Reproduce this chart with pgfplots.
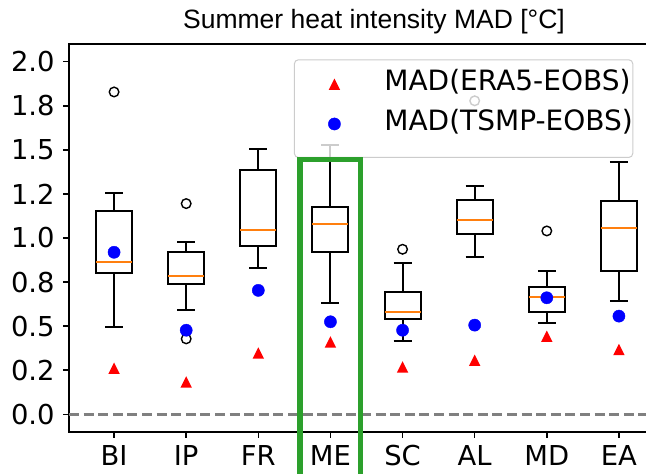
\documentclass[border=0pt]{standalone}
\usepackage{fontspec}
\setmainfont{DejaVu Sans}
\newfontfamily\titlefont{Liberation Sans}
\usepackage{pgfplots}
\pgfplotsset{compat=1.18}
\usepgfplotslibrary{statistics}
\definecolor{mplorange}{HTML}{FF7F0E}
\definecolor{mplgreen}{HTML}{2CA02C}
\definecolor{legedge}{HTML}{CCCCCC}
\pgfdeclareplotmark{mtri}{%
  \pgfpathmoveto{\pgfpoint{0pt}{\pgfplotmarksize}}%
  \pgfpathlineto{\pgfpoint{-\pgfplotmarksize}{-\pgfplotmarksize}}%
  \pgfpathlineto{\pgfpoint{\pgfplotmarksize}{-\pgfplotmarksize}}%
  \pgfpathclose
  \pgfusepathqfill}
\pgfplotsset{
  mybox/.style={black, solid, line width=1pt, mark=o,
    mark options={black, line width=0.7pt, solid, fill=none},
    mark size=2.4pt,
    boxplot/draw direction=y,
    boxplot/every median/.style={draw=mplorange, line width=0.9pt},
    forget plot},
  myleg/.style={legend image code/.code={\path[draw=none, fill=none] (0pt,-4pt) rectangle (45pt,4pt);
    \pgfinterruptboundingbox
    \draw[##1, sharp corners, fill opacity=1, draw opacity=1] plot coordinates {(20pt,2.25pt)};
    \endpgfinterruptboundingbox}},
}
\begin{document}
\begin{tikzpicture}
\begin{axis}[
  at={(0pt,0pt)}, anchor=south west,
  scale only axis, width=297.5pt, height=194pt,
  xmin=0.375, xmax=8.625, ymin=-0.1, ymax=2.1,
  xtick={1,2,3,4,5,6,7,8},
  xticklabels={BI,IP,FR,ME,SC,AL,MD,EA},
  ytick={0,0.25,0.5,0.75,1,1.25,1.5,1.75,2},
  yticklabels={0.0,0.2,0.5,0.8,1.0,1.2,1.5,1.8,2.0},
  xtick pos=bottom, ytick pos=left,
  tick align=outside,
  major tick length=2.8pt,
  major tick style={black, line width=0.8pt},
  axis line style={black, line width=0.9pt},
  /pgf/number format/assume math mode=true,
  tick label style={font=\fontsize{13.7}{16}\selectfont},
  yticklabel style={anchor=east, inner sep=0pt, xshift=-4.2pt},
  xticklabel style={anchor=north, inner sep=0pt, yshift=-3.7pt},
  legend cell align=left,
  legend style={at={(axis description cs:0.378,0.9606)}, anchor=north west,
    draw=legedge, line width=0.5pt, rounded corners=2pt,
    fill=white, fill opacity=0.8, draw opacity=1, text opacity=1,
    inner xsep=0pt, inner ysep=8pt, row sep=6.85pt, column sep=0pt,
    font=\fontsize{14}{16.8}\selectfont,
    nodes={inner sep=0pt, text height=7.35pt, text depth=5.65pt}},
]
% zero line
\addplot[forget plot, color=gray, line width=1.2pt, dash pattern=on 5pt off 2.3pt]
  coordinates {(0.375,0) (8.625,0)};
% BI
\addplot[mybox, boxplot prepared={draw position=1, lower whisker=0.498, lower quartile=0.803,
  median=0.865, upper quartile=1.153, upper whisker=1.254, box extend=0.5, whisker extend=0.25}]
  table[row sep=\\, y index=0] {y\\ 1.828\\};
% IP
\addplot[mybox, boxplot prepared={draw position=2, lower whisker=0.591, lower quartile=0.739,
  median=0.786, upper quartile=0.918, upper whisker=0.977, box extend=0.5, whisker extend=0.25}]
  table[row sep=\\, y index=0] {y\\ 1.195\\ 0.428\\};
% FR
\addplot[mybox, boxplot prepared={draw position=3, lower whisker=0.828, lower quartile=0.956,
  median=1.045, upper quartile=1.384, upper whisker=1.504, box extend=0.5, whisker extend=0.25}]
  coordinates {};
% ME
\addplot[mybox, boxplot prepared={draw position=4, lower whisker=0.629, lower quartile=0.920,
  median=1.080, upper quartile=1.178, upper whisker=1.530, box extend=0.5, whisker extend=0.25}]
  coordinates {};
% SC
\addplot[mybox, boxplot prepared={draw position=5, lower whisker=0.415, lower quartile=0.540,
  median=0.580, upper quartile=0.695, upper whisker=0.856, box extend=0.5, whisker extend=0.25}]
  table[row sep=\\, y index=0] {y\\ 0.936\\};
% AL
\addplot[mybox, boxplot prepared={draw position=6, lower whisker=0.894, lower quartile=1.021,
  median=1.102, upper quartile=1.216, upper whisker=1.297, box extend=0.5, whisker extend=0.25}]
  table[row sep=\\, y index=0] {y\\ 1.778\\};
% MD
\addplot[mybox, boxplot prepared={draw position=7, lower whisker=0.519, lower quartile=0.578,
  median=0.667, upper quartile=0.722, upper whisker=0.8125, box extend=0.5, whisker extend=0.25}]
  table[row sep=\\, y index=0] {y\\ 1.040\\};
% EA
\addplot[mybox, boxplot prepared={draw position=8, lower whisker=0.644, lower quartile=0.811,
  median=1.055, upper quartile=1.208, upper whisker=1.430, box extend=0.5, whisker extend=0.25}]
  coordinates {};
% ERA5
\addplot[only marks, mark=mtri, mark size=2.85pt, color=red, myleg]
  coordinates {(1,0.262) (2,0.184) (3,0.348) (4,0.411) (5,0.269) (6,0.307) (7,0.443) (8,0.368)};
\addlegendentry{MAD(ERA5-EOBS)}
% TSMP
\addplot[only marks, mark=*, mark size=3.05pt, color=blue, mark options={line width=0.2pt}, myleg]
  coordinates {(1,0.919) (2,0.477) (3,0.703) (4,0.525) (5,0.477) (6,0.506) (7,0.661) (8,0.557)};
\addlegendentry{MAD(TSMP-EOBS)}
\coordinate (g1) at (axis cs:3.576,1.445);
\coordinate (g2) at (axis cs:4.417,-0.6);
\end{axis}
\draw[mplgreen, line width=2.8pt] (g1) rectangle (g2);
\node[anchor=base, inner sep=0pt, font=\titlefont\fontsize{13.25}{16}\selectfont]
  at (152.5pt,201.85pt) {Summer heat intensity MAD [°C]};
\pgfresetboundingbox
\useasboundingbox (-34.5pt,-21pt) rectangle (288.5pt,216pt);
\end{tikzpicture}
\end{document}
